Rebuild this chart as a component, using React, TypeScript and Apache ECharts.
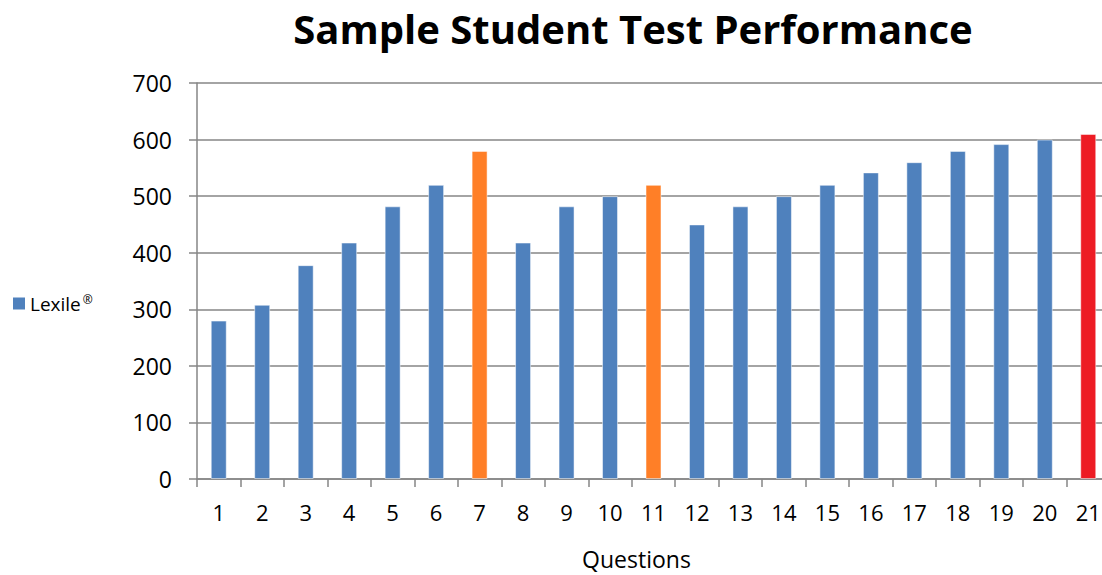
import React, { useEffect, useRef } from "react";
import * as echarts from "echarts";

const questions = ["1","2","3","4","5","6","7","8","9","10","11","12","13","14","15","16","17","18","19","20","21"];
const lexileScores = [280, 308, 378, 418, 482, 520, 580, 418, 482, 500, 520, 450, 482, 500, 520, 542, 560, 580, 592, 600, 610];
const orangeQuestions = ["7", "11"];
const redQuestions = ["21"];
const yTicks = [0, 100, 200, 300, 400, 500, 600, 700];

const BLUE = "#4F81BD";
const ORANGE = "#FF7F27";
const RED = "#ED1C24";
const FONT = "'Open Sans', Lato, sans-serif";

export default function App() {
  const ref = useRef<HTMLDivElement>(null);
  useEffect(() => {
    if (!ref.current) return;
    const chart = echarts.init(ref.current, undefined, { renderer: "svg" });
    const data = lexileScores.map((v, i) => {
      const q = questions[i];
      const color = redQuestions.includes(q) ? RED : orangeQuestions.includes(q) ? ORANGE : BLUE;
      return { value: v, itemStyle: { color, borderColor: "rgba(255,255,255,0.5)", borderWidth: 1 } };
    });
    chart.setOption({
      animation: false,
      backgroundColor: "#ffffff",
      title: {
        text: "Sample Student Test Performance",
        left: 628,
        textAlign: "center",
        top: 3,
        textStyle: { fontFamily: FONT, fontWeight: "bold", fontSize: 40, color: "#000" },
      },
      legend: {
        left: 8,
        top: 288,
        icon: "rect",
        itemWidth: 12,
        itemHeight: 12,
        itemGap: 5,
        data: [{ name: "Lexile", icon: "rect" }],
        formatter: () => "{a|Lexile}{b|®}",
        textStyle: {
          fontFamily: FONT,
          fontSize: 19,
          color: "#000",
          rich: {
            a: { fontFamily: FONT, fontSize: 19, color: "#000" },
            b: { fontFamily: FONT, fontSize: 12, color: "#000", verticalAlign: "top", padding: [0, 0, 9, 2] },
          },
        },
      },
      grid: { left: 197, right: 2, top: 83, bottom: 95, containLabel: false },
      xAxis: {
        type: "category",
        data: questions,
        name: "Questions",
        nameLocation: "middle",
        nameGap: 68,
        nameTextStyle: { fontFamily: FONT, fontSize: 23, color: "#000", padding: [0, 34, 0, 0] },
        axisLine: { lineStyle: { color: "#868686", width: 1.5 } },
        axisTick: { show: true, length: 8, lineStyle: { color: "#868686", width: 1.5 } },
        axisLabel: { fontFamily: FONT, fontSize: 22, color: "#000", margin: 22, interval: 0 },
      },
      yAxis: {
        type: "value",
        min: yTicks[0],
        max: yTicks[yTicks.length - 1],
        interval: 100,
        axisLine: { show: true, lineStyle: { color: "#868686", width: 1.5 } },
        axisTick: { show: true, length: 8, lineStyle: { color: "#868686", width: 1.5 } },
        axisLabel: { fontFamily: FONT, fontSize: 23, color: "#000", margin: 25 },
        splitLine: { show: true, lineStyle: { color: "#868686", width: 1.5 } },
      },
      series: [
        {
          name: "Lexile",
          type: "bar",
          data,
          barWidth: 16,
          itemStyle: { color: BLUE },
        },
      ],
    });
    return () => chart.dispose();
  }, []);
  return (
    <div style={{ position: "absolute", left: 0, top: 0, width: 1102, height: 575, overflow: "hidden" }}>
      <div ref={ref} style={{ width: 1112, height: 575 }} />
    </div>
  );
}
